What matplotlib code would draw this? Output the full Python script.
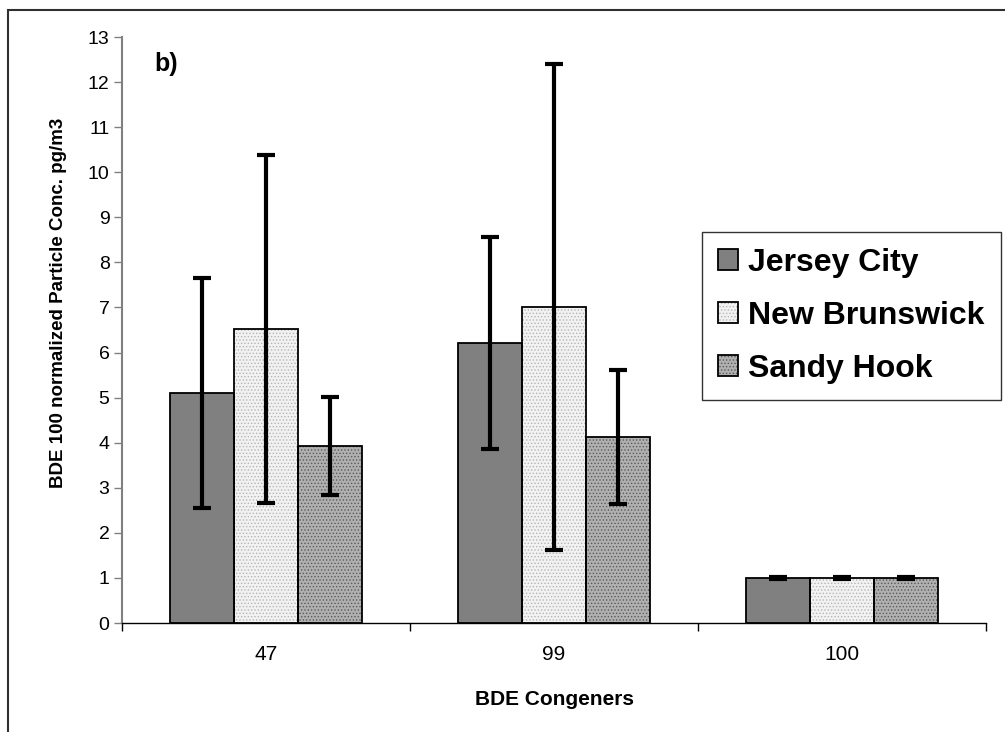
import numpy as np
import matplotlib
matplotlib.use('Agg')
import matplotlib.pyplot as plt
from matplotlib.patches import Rectangle, Patch

plt.rcParams['font.family'] = ['Liberation Sans', 'DejaVu Sans']
plt.rcParams['hatch.linewidth'] = 0.6

congeners = ['47', '99', '100']
sites = ['Jersey City', 'New Brunswick', 'Sandy Hook']
jersey_city = [5.1, 6.22, 1.0]
new_brunswick = [6.52, 7.0, 1.0]
sandy_hook = [3.92, 4.13, 1.0]
jersey_city_err = [2.55, 2.35, 0.02]
new_brunswick_err = [3.86, 5.39, 0.02]
sandy_hook_err = [1.09, 1.48, 0.02]

# face, hatch colour, hatch pattern
styles = [('#808080', '#808080', ''),
          ('#f2f2f2', '#b4b4b4', '.....'),
          ('#b0b0b0', '#5a5a5a', '.....')]

fig = plt.figure(figsize=(10.05, 7.32), dpi=100)
ax = fig.add_axes([122/1005, 1-623/732, (986-122)/1005, (623-37)/732])

x = np.arange(len(congeners))
w = 0.222
handles = []
for i, (vals, errs) in enumerate(zip([jersey_city, new_brunswick, sandy_hook],
                                     [jersey_city_err, new_brunswick_err, sandy_hook_err])):
    face, hcol, hatch = styles[i]
    pos = x + (i - 1) * w
    ax.bar(pos, vals, w, color=face, edgecolor=hcol, hatch=hatch, linewidth=0, zorder=2)
    ax.bar(pos, vals, w, fill=False, edgecolor='black', linewidth=1.3, zorder=3)
    ax.errorbar(pos, vals, yerr=errs, fmt='none', ecolor='black', elinewidth=3,
                capsize=6.5, capthick=3, zorder=4)
    handles.append((Patch(facecolor=face, edgecolor=hcol, hatch=hatch, linewidth=0),
                    Patch(fill=False, edgecolor='black', linewidth=1.3)))

ax.set_xlim(-0.5, 2.5)
ax.set_ylim(0, 13)
ax.set_yticks(range(0, 14))
ax.set_xticks(x)
ax.set_xticklabels(congeners)
ax.set_xticks([-0.5, 0.5, 1.5, 2.5], minor=True)
ax.tick_params(axis='x', which='major', length=0, pad=15.5, labelsize=15)
ax.tick_params(axis='x', which='minor', length=6, width=1, color='black')
ax.tick_params(axis='y', length=6, width=1, color='#808080', labelsize=14, pad=3)
for s in ['top', 'right']:
    ax.spines[s].set_visible(False)
ax.spines['left'].set_color('#808080')
ax.spines['left'].set_linewidth(1.5)
ax.spines['bottom'].set_color('black')
ax.spines['bottom'].set_linewidth(1)

ax.set_ylabel('BDE 100 normalized Particle Conc. pg/m3', fontsize=13.5, fontweight='bold')
ax.yaxis.set_label_coords(-0.064, 0.546)
ax.set_xlabel('BDE Congeners', fontsize=15, fontweight='bold', labelpad=19)
ax.text(0.038, 0.975, 'b)', transform=ax.transAxes, fontsize=18, fontweight='bold', va='top')

leg = fig.legend(handles, sites, loc='upper left', bbox_to_anchor=(702/1005, 1-232/732),
                 frameon=True, fancybox=False, edgecolor='black',
                 handlelength=0.62, handleheight=0.62, handletextpad=0.33,
                 labelspacing=0.72, borderpad=0.5, borderaxespad=0,
                 prop={'weight': 'bold', 'size': 23})
leg.get_frame().set_linewidth(1)

# chart area border, running off the right and bottom edges
fig.patches.append(Rectangle((8/1005, -0.1), 2, 1 - 10/732 + 0.1, transform=fig.transFigure,
                             fill=False, edgecolor='#303030', linewidth=1.5))

fig.savefig('out.png', dpi=100)
